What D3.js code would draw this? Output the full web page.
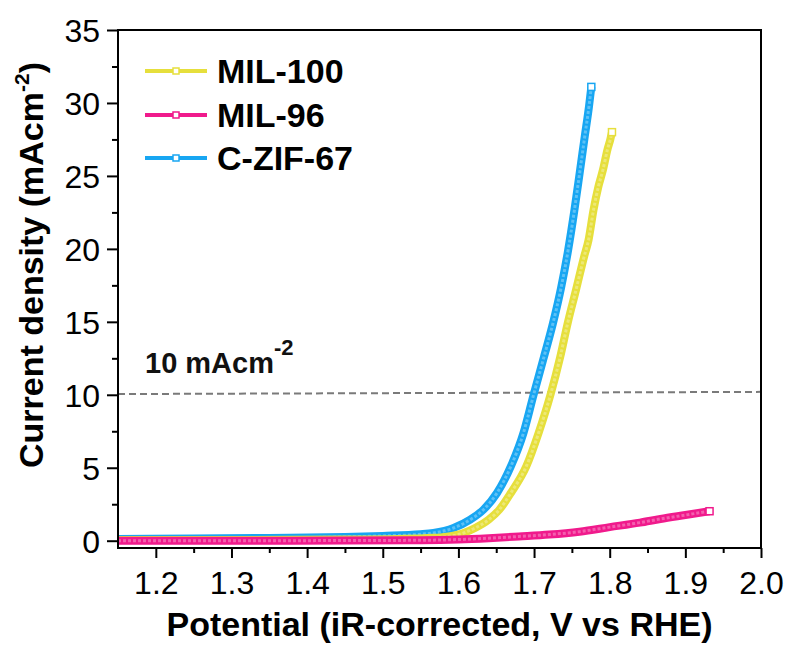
<!DOCTYPE html>
<html>
<head>
<meta charset="utf-8">
<script src="https://cdn.jsdelivr.net/npm/d3@7"></script>
<style>
  body { margin: 0; background: #fff; }
  text { font-family: "Liberation Sans", Arial, sans-serif; }
</style>
</head>
<body>
<div id="chart"></div>
<script>
// values
let zifPotential = [1.15, 1.25, 1.35, 1.45, 1.50, 1.55, 1.567, 1.5935, 1.6156, 1.633, 1.651, 1.6693, 1.686, 1.6994, 1.7126, 1.725, 1.7356, 1.745, 1.7532, 1.7603, 1.767, 1.7727, 1.7757];
let zifCurrent = [0.12, 0.15, 0.19, 0.26, 0.33, 0.44, 0.53, 0.87, 1.44, 2.12, 3.27, 5.09, 7.38, 10.0, 12.5, 14.9, 17.3, 19.9, 22.6, 25.2, 27.7, 29.8, 31.1];

let mil100Potential = [1.15, 1.30, 1.45, 1.52, 1.56, 1.585, 1.607, 1.622, 1.640, 1.654, 1.6693, 1.6897, 1.706, 1.7217, 1.7346, 1.7444, 1.7555, 1.7663, 1.772, 1.7787, 1.7852, 1.791, 1.797, 1.8008, 1.803];
let mil100Current = [0.04, 0.05, 0.08, 0.12, 0.18, 0.28, 0.53, 0.87, 1.44, 2.12, 3.27, 5.09, 7.38, 10.0, 12.6, 14.9, 17.2, 19.5, 20.6, 22.7, 24.3, 25.4, 26.8, 27.5, 28.0];

let mil96Potential = [1.15, 1.30, 1.45, 1.55, 1.60, 1.64, 1.68, 1.72, 1.76, 1.80, 1.84, 1.867, 1.90, 1.932];
let mil96Current = [0.0, 0.0, 0.01, 0.03, 0.08, 0.17, 0.29, 0.42, 0.62, 0.93, 1.24, 1.49, 1.76, 2.02];

let seriesNames = ["MIL-100", "MIL-96", "C-ZIF-67"];
let seriesColors = ["#e6df3c", "#f01a8c", "#18a6f2"];

let xTicks = [1.2, 1.3, 1.4, 1.5, 1.6, 1.7, 1.8, 1.9, 2.0];
let xMinorTicks = [1.25, 1.35, 1.45, 1.55, 1.65, 1.75, 1.85, 1.95];
let yTicks = [0, 5, 10, 15, 20, 25, 30, 35];
let yMinorTicks = [2.5, 7.5, 12.5, 17.5, 22.5, 27.5, 32.5];

let refLevel = [10.05, 10.2];

let svgWidth = 790;
let svgHeight = 646;

let margin = { top: 30, right: 29, bottom: 98, left: 118 };
let width = svgWidth - margin.left - margin.right;
let height = svgHeight - margin.top - margin.bottom;

let svg = d3.select("#chart")
  .append("svg")
  .attr("width", svgWidth)
  .attr("height", svgHeight);

let chartGroup = svg.append("g")
  .attr("transform", `translate(${margin.left}, ${margin.top})`);

let xScale = d3.scaleLinear().domain([1.15, 2.0]).range([0, width]);
let yScale = d3.scaleLinear().domain([-0.5, 35]).range([height, 0]);

// build series records
let series = [
  { name: seriesNames[0], color: seriesColors[0], pts: mil100Potential.map((v, i) => [v, mil100Current[i]]) },
  { name: seriesNames[1], color: seriesColors[1], pts: mil96Potential.map((v, i) => [v, mil96Current[i]]) },
  { name: seriesNames[2], color: seriesColors[2], pts: zifPotential.map((v, i) => [v, zifCurrent[i]]) }
];

// dashed 10 mA line
chartGroup.append("line")
  .attr("x1", xScale(1.15)).attr("y1", yScale(refLevel[0]))
  .attr("x2", xScale(2.0)).attr("y2", yScale(refLevel[1]))
  .attr("stroke", "#7a7a7a")
  .attr("stroke-width", 2)
  .attr("stroke-dasharray", "7,4");

let line = d3.line()
  .x(d => xScale(d[0]))
  .y(d => yScale(d[1]))
  .curve(d3.curveMonotoneX);

// draw order: blue, yellow, pink on top
let drawOrder = [series[2], series[0], series[1]];

drawOrder.forEach(s => {
  chartGroup.append("path")
    .datum(s.pts)
    .attr("fill", "none")
    .attr("stroke", s.color)
    .attr("stroke-width", 8)
    .attr("stroke-linejoin", "round")
    .attr("d", line);

  // texture of the hollow square symbols
  chartGroup.append("path")
    .datum(s.pts)
    .attr("fill", "none")
    .attr("stroke", "#fff")
    .attr("stroke-opacity", 0.3)
    .attr("stroke-width", 3)
    .attr("stroke-dasharray", "3,2")
    .attr("d", line);

  let last = s.pts[s.pts.length - 1];
  chartGroup.append("rect")
    .attr("x", xScale(last[0]) - 3.5)
    .attr("y", yScale(last[1]) - 3.5)
    .attr("width", 7)
    .attr("height", 7)
    .attr("fill", "#fff")
    .attr("stroke", s.color)
    .attr("stroke-width", 1.5);
});

// axes
let bottomAxis = d3.axisBottom(xScale).tickValues(xTicks).tickFormat(d3.format(".1f")).tickSize(10).tickPadding(13);
let bottomMinor = d3.axisBottom(xScale).tickValues(xMinorTicks).tickFormat("").tickSize(5);
let leftAxis = d3.axisLeft(yScale).tickValues(yTicks).tickFormat(d3.format("d")).tickSize(11).tickPadding(7);
let leftMinor = d3.axisLeft(yScale).tickValues(yMinorTicks).tickFormat("").tickSize(6);

let xAxis = chartGroup.append("g")
  .attr("transform", `translate(0, ${height})`)
  .call(bottomAxis);
chartGroup.append("g")
  .attr("transform", `translate(0, ${height})`)
  .call(bottomMinor);

let yAxis = chartGroup.append("g").call(leftAxis);
chartGroup.append("g").call(leftMinor);

chartGroup.selectAll(".domain").remove();
chartGroup.selectAll(".tick line").attr("stroke", "#000").attr("stroke-width", 2);

xAxis.selectAll("text")
  .attr("font-size", 32)
  .attr("fill", "#000")
  .attr("dy", "0.71em");
yAxis.selectAll("text")
  .attr("font-size", 32)
  .attr("fill", "#000")
  .attr("dy", "0.36em");

// frame
chartGroup.append("rect")
  .attr("x", 0).attr("y", 0)
  .attr("width", width).attr("height", height)
  .attr("fill", "none")
  .attr("stroke", "#000")
  .attr("stroke-width", 2);

// reference label
let refLabel = svg.append("text")
  .attr("x", 145)
  .attr("y", 373)
  .attr("font-size", 29)
  .attr("font-weight", "bold")
  .attr("fill", "#111");
refLabel.append("tspan").text("10 mAcm");
refLabel.append("tspan").attr("dy", -18).attr("font-size", 22).text("-2");

// legend
let legend = svg.append("g");
let legendY = [71, 115, 158];
series.forEach((s, i) => {
  let g = legend.append("g").attr("transform", `translate(0, ${legendY[i]})`);
  g.append("line")
    .attr("x1", 145).attr("x2", 207)
    .attr("stroke", s.color)
    .attr("stroke-width", 4);
  g.append("rect")
    .attr("x", 173).attr("y", -3)
    .attr("width", 6).attr("height", 6)
    .attr("fill", "#fff")
    .attr("stroke", s.color)
    .attr("stroke-width", 1.5);
  g.append("text")
    .attr("x", 217)
    .attr("y", 12)
    .attr("font-size", 34)
    .attr("font-weight", "bold")
    .attr("fill", "#000")
    .text(s.name);
});

// axis titles
svg.append("text")
  .attr("x", margin.left + width / 2)
  .attr("y", 636)
  .attr("text-anchor", "middle")
  .attr("font-size", 34)
  .attr("font-weight", "bold")
  .attr("fill", "#000")
  .text("Potential (iR-corrected, V vs RHE)");

let yTitle = svg.append("text")
  .attr("transform", "translate(43, 265) rotate(-90)")
  .attr("text-anchor", "middle")
  .attr("font-size", 34)
  .attr("font-weight", "bold")
  .attr("fill", "#000");
yTitle.append("tspan").text("Current density (mAcm");
yTitle.append("tspan").attr("dy", -14).attr("font-size", 21).text("-2");
yTitle.append("tspan").attr("dy", 14).text(")");
</script>
</body>
</html>
